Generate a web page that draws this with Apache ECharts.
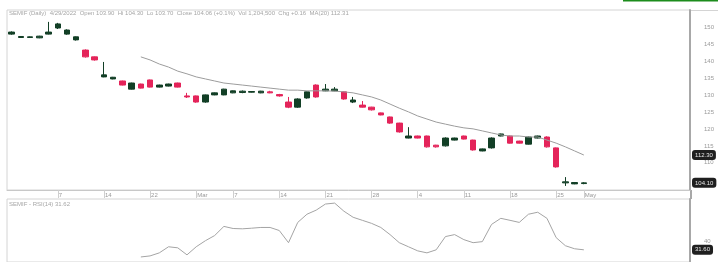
<!DOCTYPE html>
<html>
<head>
<meta charset="utf-8">
<script src="https://cdn.jsdelivr.net/npm/echarts@6/dist/echarts.min.js"></script>
<style>
  html, body { margin: 0; padding: 0; background: #fff; }
  #chart { width: 718px; height: 262px; }
</style>
</head>
<body>
<div id="chart"></div>
<script>
// daily bars: [open, close, low, high]
const bars = [
  [147.9, 148.5, 147.7, 148.7], [146.9, 147.2, 146.8, 147.3], [146.9, 147.1, 146.8, 147.2],
  [146.8, 147.3, 146.7, 147.4], [147.9, 148.5, 147.8, 151.5], [149.7, 150.9, 149.4, 151.2],
  [147.9, 149.1, 147.7, 149.3], [146.2, 147.1, 146.0, 147.2], [143.2, 141.2, 141.0, 143.4],
  [141.2, 140.3, 140.1, 141.3], [135.3, 135.9, 135.2, 139.7], [134.7, 135.2, 134.6, 135.3],
  [134.1, 132.9, 132.8, 134.2], [131.7, 133.5, 131.6, 133.6], [133.2, 132.0, 131.9, 133.3],
  [134.4, 132.3, 132.2, 134.5], [132.3, 132.9, 132.2, 133.0], [132.6, 133.2, 132.5, 133.3],
  [133.5, 132.3, 132.2, 133.6], [129.7, 129.4, 129.1, 130.6], [129.7, 127.9, 127.7, 129.8],
  [127.9, 130.0, 127.7, 130.1], [130.0, 130.6, 129.9, 130.7], [130.0, 131.7, 129.9, 131.8],
  [130.6, 131.2, 130.5, 131.3], [130.7, 131.1, 130.5, 131.3], [130.8, 131.0, 130.7, 131.1],
  [130.6, 131.1, 130.5, 131.2], [130.9, 130.6, 130.5, 131.2], [130.1, 129.7, 129.5, 130.3],
  [127.9, 126.4, 126.1, 129.4], [126.4, 128.8, 126.2, 129.0], [129.1, 130.9, 128.9, 131.0],
  [132.9, 129.4, 129.2, 133.1], [131.2, 131.7, 131.1, 133.2], [131.2, 131.7, 131.1, 132.3],
  [130.9, 128.8, 128.6, 131.0], [127.9, 128.5, 127.6, 129.4], [127.0, 126.4, 126.3, 128.2],
  [126.4, 125.6, 125.4, 126.5], [124.7, 124.1, 124.0, 124.8], [123.5, 121.7, 121.5, 123.6],
  [121.7, 119.1, 118.9, 121.8], [117.3, 117.9, 117.2, 120.5], [117.9, 117.3, 117.2, 118.0],
  [117.9, 114.7, 114.5, 118.0], [115.2, 114.7, 114.5, 115.3], [115.0, 117.3, 114.8, 117.5],
  [116.7, 117.3, 116.6, 117.4], [117.9, 117.0, 116.9, 118.0], [116.7, 113.8, 113.6, 116.8],
  [113.5, 114.1, 113.4, 114.2], [114.4, 117.3, 114.2, 117.5], [117.9, 118.5, 117.8, 118.6],
  [117.9, 115.8, 115.7, 118.0], [116.4, 115.8, 115.7, 116.5], [115.5, 117.6, 115.4, 117.7],
  [117.3, 117.9, 117.2, 118.0], [117.6, 114.7, 114.5, 117.8], [114.4, 108.8, 108.6, 114.5],
  [104.1, 104.4, 103.2, 105.8], [103.8, 104.2, 103.7, 104.3], [103.9, 104.1, 103.7, 104.3]
];

// moving average, starts at bar 14
const maStart = 14;
const ma20 = [
  141.2, 140.3, 139.1, 138.2, 137.0, 136.2, 135.3, 134.7, 134.1, 133.5,
  133.2, 132.9, 132.6, 132.3, 132.0, 131.7, 131.4, 131.4, 131.2, 131.2,
  131.2, 131.1, 130.9, 130.6, 130.0, 129.4, 128.5, 127.3, 126.1, 125.0,
  123.8, 122.9, 122.0, 121.4, 120.8, 120.3, 120.0, 119.4, 118.8, 118.2,
  117.9, 117.9, 117.6, 117.6, 116.7, 115.8, 114.7, 113.5, 112.3
];

// lower indicator, also starts at bar 14
const rsi = [
  24.8, 25.8, 28.7, 34.5, 33.5, 26.8, 34.5, 40.3, 45.2, 53.9,
  51.9, 51.6, 52.2, 52.9, 52.9, 50.0, 38.4, 57.7, 65.5, 69.4,
  75.2, 76.1, 68.4, 62.6, 59.7, 56.8, 52.9, 46.1, 38.4, 34.5,
  30.6, 28.7, 31.6, 44.2, 46.1, 41.3, 38.4, 39.4, 55.8, 61.6,
  59.7, 57.7, 65.5, 67.4, 61.6, 43.2, 35.5, 32.6, 31.6
];

const tickIdx = [5, 10, 15, 20, 24, 29, 34, 39, 44, 49, 54, 59, 62];
const tickText = ['7', '14', '22', 'Mar', '7', '14', '21', '28', '4', '11', '18', '25', 'May'];

const slots = 74; // bars plus empty space on the right
const cats = Array.from({ length: slots }, (_, i) => 'd' + i);
const lead = Array(maStart).fill(null);

const lastClose = bars[bars.length - 1][1];
const lastMa = ma20[ma20.length - 1];
const lastRsi = rsi[rsi.length - 1];

const grey = '#a6a6a6';
const up = '#123f26';
const down = '#e4245a';

const pointerLabel = (fmt) => ({
  show: true,
  backgroundColor: '#1f1f1f',
  color: '#e6e6e6',
  fontSize: 6,
  padding: [2, 3],
  margin: 2,
  formatter: p => fmt(p.value)
});

const chart = echarts.init(document.getElementById('chart'));
chart.setOption({
  animation: false,
  title: [
    {
      text: 'SEMIF (Daily)  4/29/2022  Open 103.90  Hi 104.30  Lo 103.70  Close 104.06 (+0.1%)  Vol 1,204,500  Chg +0.16  MA(20) 112.31',
      left: 9, top: 10, padding: 0,
      textStyle: { fontSize: 6, color: grey, fontWeight: 'normal' }
    },
    {
      text: 'SEMIF - RSI(14) 31.62',
      left: 9, top: 201, padding: 0,
      textStyle: { fontSize: 6, color: grey, fontWeight: 'normal' }
    }
  ],
  grid: [
    { left: 7, right: 28, top: 10, height: 180, show: true, borderColor: '#d4d4d4', borderWidth: 1, outerBoundsMode: 'none' },
    { left: 7, right: 28, top: 199, bottom: 0, show: true, borderColor: '#d4d4d4', borderWidth: 1, outerBoundsMode: 'none' }
  ],
  xAxis: [
    {
      type: 'category', gridIndex: 0, data: cats, boundaryGap: true,
      axisLine: { lineStyle: { color: '#c8c8c8' } },
      axisTick: {
        show: true, alignWithLabel: true, length: 8,
        interval: i => tickIdx.includes(i),
        lineStyle: { color: '#cfcfcf' }
      },
      axisLabel: {
        interval: i => tickIdx.includes(i),
        formatter: (v, i) => tickText[tickIdx.indexOf(i)] || '',
        align: 'left', fontSize: 6, color: '#9a9a9a', margin: 2, padding: [0, 0, 0, 1]
      },
      splitLine: { show: false }
    },
    {
      type: 'category', gridIndex: 1, data: cats, boundaryGap: true,
      axisLine: { show: false }, axisTick: { show: false }, axisLabel: { show: false },
      splitLine: { show: false }
    }
  ],
  yAxis: [
    {
      type: 'value', gridIndex: 0, position: 'right', min: 102, max: 155, interval: 1,
      axisLine: { show: true, lineStyle: { color: '#a8a8a8', width: 2 } },
      axisTick: { show: false }, splitLine: { show: false },
      axisLabel: {
        fontSize: 6, color: '#9a9a9a', margin: 14,
        formatter: v => (v % 5 === 0 && v >= 110 && v <= 150) ? String(v) : ''
      },
      axisPointer: {
        show: true, status: 'show', value: lastClose, type: 'line', triggerTooltip: false,
        lineStyle: { opacity: 0 }, label: pointerLabel(v => v.toFixed(2))
      }
    },
    {
      type: 'value', gridIndex: 0, position: 'right', min: 102, max: 155,
      axisLine: { show: false }, axisTick: { show: false }, splitLine: { show: false },
      axisLabel: { show: false },
      axisPointer: {
        show: true, status: 'show', value: lastMa, type: 'line', triggerTooltip: false,
        lineStyle: { opacity: 0 }, label: pointerLabel(v => v.toFixed(2))
      }
    },
    {
      type: 'value', gridIndex: 1, position: 'right', min: 20, max: 80, interval: 10,
      axisLine: { show: true, lineStyle: { color: '#a8a8a8', width: 2 } },
      axisTick: { show: false }, splitLine: { show: false },
      axisLabel: { fontSize: 6, color: '#9a9a9a', margin: 14, formatter: v => v === 40 ? '40' : '' },
      axisPointer: {
        show: true, status: 'show', value: lastRsi, type: 'line', triggerTooltip: false,
        lineStyle: { opacity: 0 }, label: pointerLabel(v => v.toFixed(2))
      }
    }
  ],
  series: [
    {
      type: 'candlestick', xAxisIndex: 0, yAxisIndex: 0, data: bars, barWidth: 6,
      itemStyle: { color: up, color0: down, borderColor: up, borderColor0: down, borderWidth: 1 }
    },
    {
      type: 'line', xAxisIndex: 0, yAxisIndex: 0, data: lead.concat(ma20),
      symbol: 'none', lineStyle: { color: '#9c9c9c', width: 1 }
    },
    {
      type: 'line', xAxisIndex: 1, yAxisIndex: 2, data: lead.concat(rsi),
      symbol: 'none', lineStyle: { color: '#a4a4a4', width: 1 }
    }
  ],
  graphic: [
    { type: 'line', shape: { x1: 623, y1: 0.5, x2: 718, y2: 0.5 }, style: { stroke: '#1c8c1c', lineWidth: 2 } },
    { type: 'line', shape: { x1: 690, y1: 10.5, x2: 718, y2: 10.5 }, style: { stroke: '#d4d4d4', lineWidth: 1 } },
    { type: 'line', shape: { x1: 691, y1: 190, x2: 691, y2: 199 }, style: { stroke: '#a8a8a8', lineWidth: 2 } }
  ]
});
</script>
</body>
</html>
